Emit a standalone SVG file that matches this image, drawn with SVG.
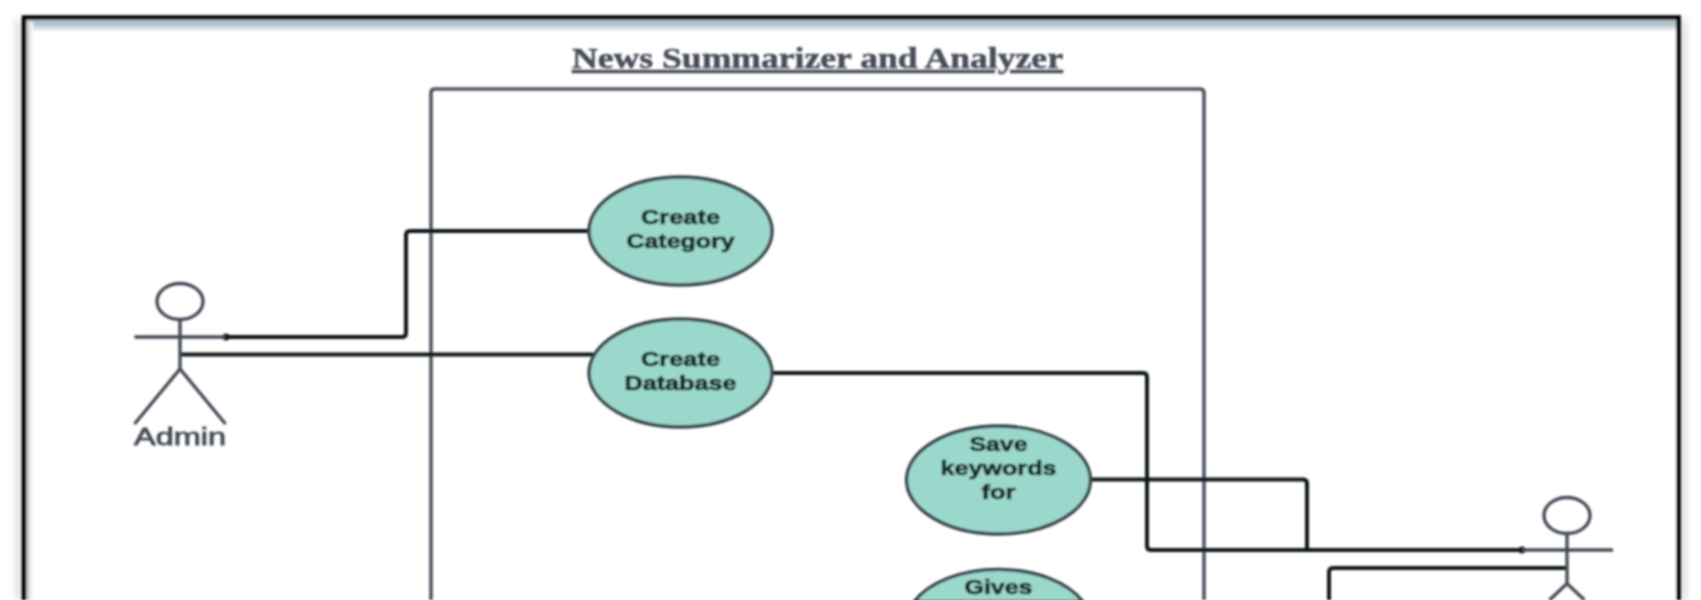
<svg xmlns="http://www.w3.org/2000/svg" width="1701" height="600" viewBox="0 0 1701 600">
<style>
.usecase{fill:#9bd8cc;stroke:#38434a;stroke-width:3.400}
.uc{font-family:"Liberation Sans",Arial,sans-serif;font-weight:700;font-size:21px;fill:#142626;stroke:#142626;stroke-width:0.700;text-anchor:middle}
.actor{fill:none;stroke:#454b56;stroke-width:3.400}
.conn{fill:none;stroke:#0f1216;stroke-width:4;stroke-linejoin:round}
.sys{fill:none;stroke:#4e5460;stroke-width:3.600}
</style>
<defs>
<filter id="soft" filterUnits="userSpaceOnUse" x="0" y="0" width="1701" height="600"><feGaussianBlur stdDeviation="0.8"/></filter>
<filter id="shadow" filterUnits="userSpaceOnUse" x="0" y="0" width="1701" height="600"><feGaussianBlur stdDeviation="4"/></filter>
<linearGradient id="topglow" x1="0" y1="0" x2="0" y2="1"><stop offset="0" stop-color="#a9bfcd"/><stop offset="0.35" stop-color="#b4c0c8"/><stop offset="1" stop-color="#ffffff"/></linearGradient>
<linearGradient id="leftglow" x1="0" y1="0" x2="1" y2="0"><stop offset="0" stop-color="#b9bec2"/><stop offset="1" stop-color="#ffffff"/></linearGradient>
</defs>
<rect width="1701" height="600" fill="#ffffff"/>
<path d="M20 600V20M1682 600V20" fill="none" stroke="#b5b5b5" stroke-width="4" filter="url(#shadow)"/>
<g id="page-frame" filter="url(#soft)">
<rect x="24" y="19" width="1654" height="581" fill="#ffffff"/>
<rect x="26" y="20" width="1650" height="12" fill="url(#topglow)"/>
<rect x="26" y="22" width="7" height="578" fill="url(#leftglow)"/>
<path d="M24 600V17.500H1678.500V600" fill="none" stroke="#000000" stroke-width="4.600"/>
</g>
<g filter="url(#soft)">
<g id="title">
<text x="817.500" y="68" text-anchor="middle" font-family="'Liberation Serif','Times New Roman',serif" font-weight="700" font-size="30" fill="#474d58" stroke="#474d58" stroke-width="0.500" text-decoration="underline" textLength="491" lengthAdjust="spacingAndGlyphs">News Summarizer and Analyzer</text>
</g>
<g id="system-boundary">
<path class="sys" d="M431 600V93Q431 89 435 89H1200Q1204 89 1204 93V600"/>
</g>
<g id="connectors">
<path class="conn" d="M226 337H402Q406 337 406 333V235Q406 231 410 231H590"/>
<path class="conn" d="M180 354.500H594"/>
<path class="conn" d="M771 373H1143Q1147 373 1147 377V546Q1147 550 1151 550H1522"/>
<path class="conn" d="M1091 479.500H1303Q1307 479.500 1307 483.500V550"/>
<path class="conn" d="M1567 568H1333Q1329 568 1329 572V600"/>
<circle cx="226" cy="337" r="3.500" fill="#0f1216"/>
<circle cx="1522" cy="550" r="3.500" fill="#0f1216"/>
</g>
<g id="actor-admin">
<ellipse class="actor" cx="180" cy="301.500" rx="23" ry="18"/>
<path class="actor" d="M134.500 337H225M180 319.500V369M134.500 424L180 369L225.500 424"/>
<text x="180" y="444.500" text-anchor="middle" font-family="'Liberation Sans',Arial,sans-serif" font-size="23" fill="#454b56" stroke="#454b56" stroke-width="0.800" textLength="92" lengthAdjust="spacingAndGlyphs">Admin</text>
</g>
<g id="actor-user">
<ellipse class="actor" cx="1567" cy="515.500" rx="23" ry="18"/>
<path class="actor" d="M1522 550H1613M1567 533.500V583.500M1549.500 600L1567 583.500L1584.500 600"/>
</g>
<g id="uc-create-category">
<ellipse class="usecase" cx="680.500" cy="231" rx="91.500" ry="54"/>
<text class="uc" x="680.500" y="224" textLength="79" lengthAdjust="spacingAndGlyphs">Create</text>
<text class="uc" x="680.500" y="248" textLength="108" lengthAdjust="spacingAndGlyphs">Category</text>
</g>
<g id="uc-create-database">
<ellipse class="usecase" cx="680.500" cy="373" rx="91.500" ry="54"/>
<text class="uc" x="680.500" y="366" textLength="79" lengthAdjust="spacingAndGlyphs">Create</text>
<text class="uc" x="680.500" y="390" textLength="112" lengthAdjust="spacingAndGlyphs">Database</text>
</g>
<g id="uc-save-keywords">
<ellipse class="usecase" cx="998.500" cy="480" rx="92" ry="54"/>
<text class="uc" x="998.500" y="451" textLength="58" lengthAdjust="spacingAndGlyphs">Save</text>
<text class="uc" x="998.500" y="474.500" textLength="116" lengthAdjust="spacingAndGlyphs">keywords</text>
<text class="uc" x="998.500" y="498.500" textLength="34" lengthAdjust="spacingAndGlyphs">for</text>
</g>
<g id="uc-gives">
<path class="usecase" d="M914 602A92 54 0 0 1 1083 602Z"/>
<text class="uc" x="998.500" y="594" textLength="68" lengthAdjust="spacingAndGlyphs">Gives</text>
</g>
</g>
</svg>
